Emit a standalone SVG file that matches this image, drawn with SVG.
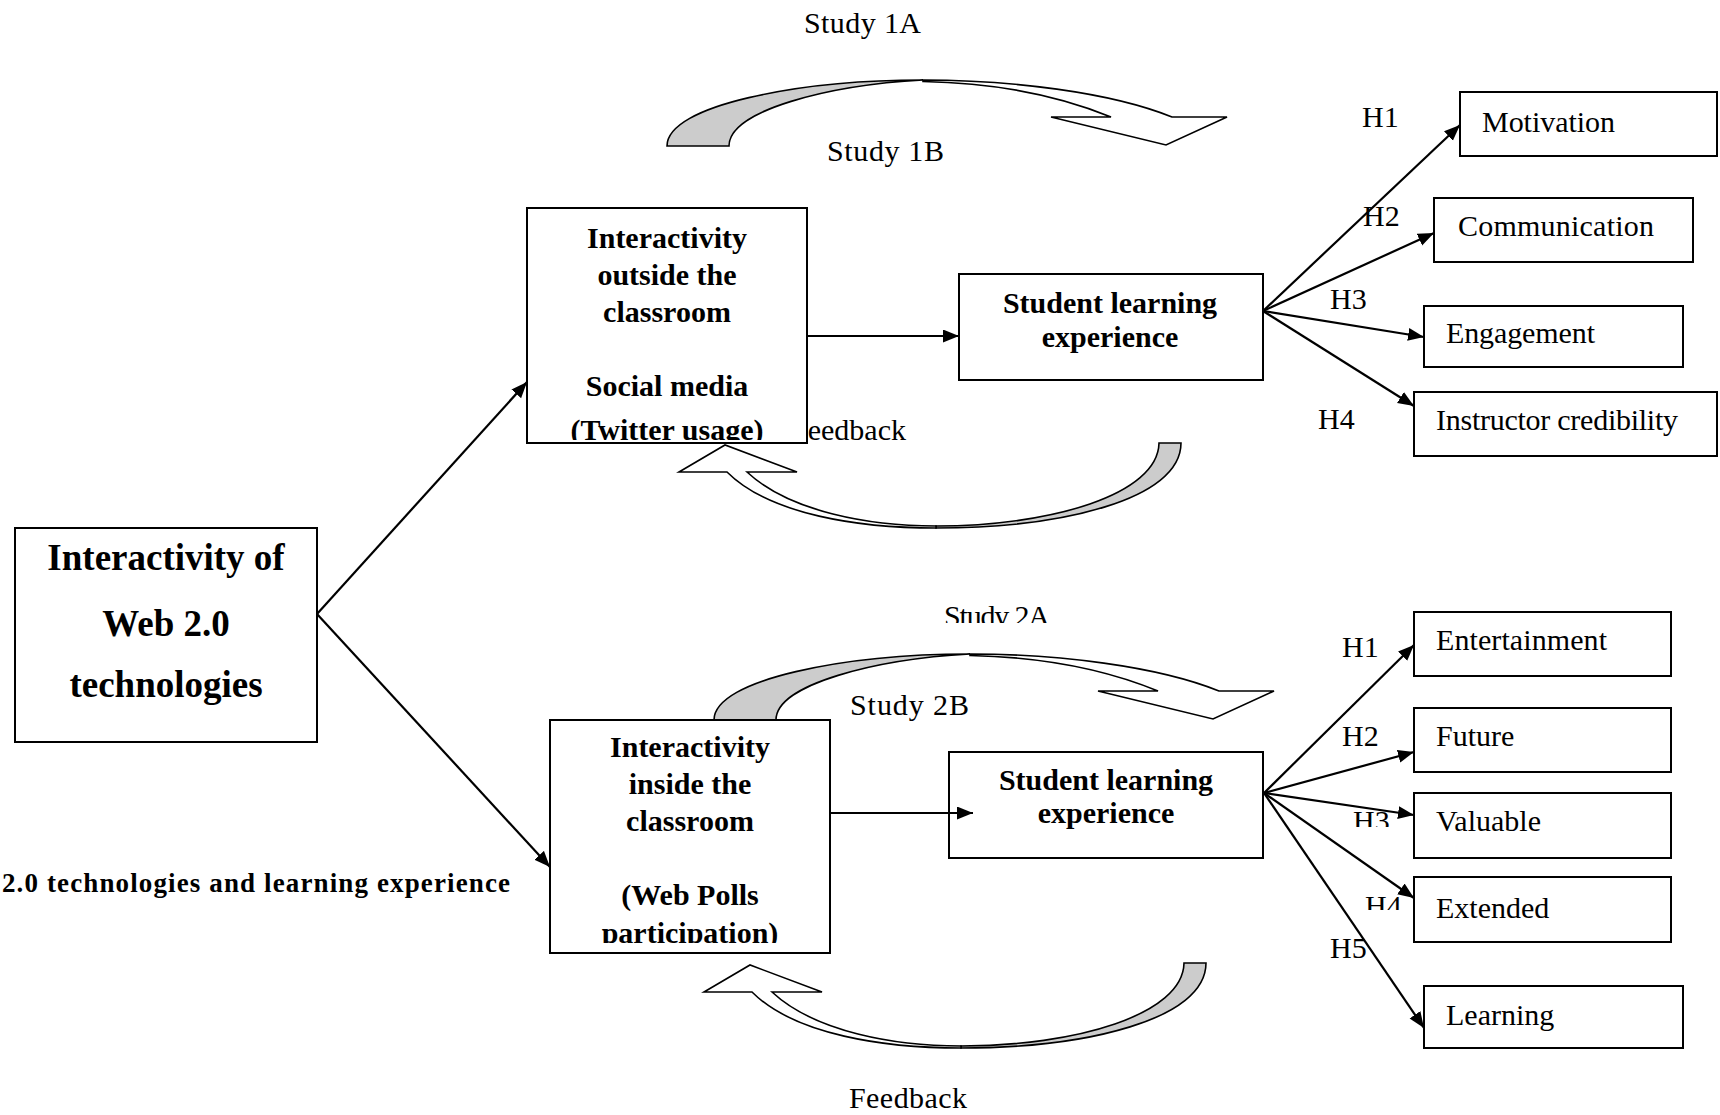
<svg xmlns="http://www.w3.org/2000/svg" width="1720" height="1115" viewBox="0 0 1720 1115">
  <style>
    .box { fill: #fff; stroke: #000; stroke-width: 2; }
    .t { font-family: "Liberation Serif", "Times New Roman", serif; font-size: 30px; fill: #000; }
    .b { font-weight: bold; }
    .mid { text-anchor: middle; }
    .edge { fill: none; stroke: #000; stroke-width: 2.2; marker-end: url(#arrow); }
    .band { fill: #fff; stroke: #000; stroke-width: 1.6; stroke-linejoin: miter; }
    .shade { fill: #cccccc; stroke: #000; stroke-width: 1.6; }
  </style>
  <defs>
    <marker id="arrow" markerUnits="userSpaceOnUse" markerWidth="18" markerHeight="14" refX="16" refY="6.5" orient="auto">
      <path d="M0,0 L16,6.5 L0,13 Z" fill="#000"/>
    </marker>
    <!-- ribbon arrow curving over the top and pointing down-right -->
    <g id="curveDown">
      <path class="shade" d="M667,146 C667,105 800,80 923,80 C830,85 729,110 729,146 Z"/>
      <path class="band" d="M923,80 C1010,80 1110,92 1172,117 L1227,117 L1166,145 L1051,117 L1111,117 C1060,96 1000,83 923,81.5 Z"/>
    </g>
    <!-- ribbon arrow curving underneath and pointing up-left -->
    <g id="curveUp">
      <path class="shade" d="M936,528 C1060,528 1181,500 1181,443 L1159,443 C1158,495 1050,526 936,526 Z"/>
      <path class="band" d="M727,472 L679,472 L725,445 L797,472 L747,472 C790,512 870,526 936,526 L936,528 C860,528 770,515 727,472 Z"/>
    </g>
    <clipPath id="clipBox1"><rect x="527" y="207" width="280" height="233"/></clipPath>
    <clipPath id="clipBox2"><rect x="550" y="720" width="280" height="223"/></clipPath>
    <clipPath id="clipH3"><rect x="1340" y="800" width="60" height="27"/></clipPath>
    <clipPath id="clipH4"><rect x="1355" y="880" width="60" height="30"/></clipPath>
    <clipPath id="clip2A"><rect x="930" y="595" width="140" height="28"/></clipPath>
  </defs>

  <!-- study and feedback labels -->
  <g id="labels">
    <text class="t" x="804" y="33" textLength="117" lengthAdjust="spacing">Study 1A</text>
    <text class="t" x="827" y="161" textLength="117" lengthAdjust="spacing">Study 1B</text>
    <text class="t" x="944" y="626" textLength="106" lengthAdjust="spacing" clip-path="url(#clip2A)">Study 2A</text>
    <text class="t" x="850" y="715" textLength="119" lengthAdjust="spacing">Study 2B</text>
    <text class="t" x="906" y="440" text-anchor="end">Feedback</text>
    <text class="t" x="849" y="1108" textLength="118" lengthAdjust="spacing">Feedback</text>
    <text class="t b" x="2" y="892" style="font-size:27px" textLength="508" lengthAdjust="spacing">2.0 technologies and learning experience</text>
  </g>

  <!-- study / feedback loops -->
  <g id="loops">
    <use href="#curveDown"/>
    <use href="#curveUp"/>
    <use href="#curveDown" transform="translate(47,574)"/>
    <use href="#curveUp" transform="translate(25,520)"/>
  </g>

  <!-- hypothesis labels -->
  <g id="hypotheses">
    <text class="t" x="1362" y="127">H1</text>
    <text class="t" x="1363" y="226">H2</text>
    <text class="t" x="1330" y="309">H3</text>
    <text class="t" x="1318" y="429">H4</text>
    <text class="t" x="1342" y="657">H1</text>
    <text class="t" x="1342" y="746">H2</text>
    <text class="t" x="1353" y="831" clip-path="url(#clipH3)">H3</text>
    <text class="t" x="1365" y="916" clip-path="url(#clipH4)">H4</text>
    <text class="t" x="1330" y="958">H5</text>
  </g>

  <g id="web20">
    <rect class="box" x="15" y="528" width="302" height="214"/>
    <text class="t b mid" style="font-size:37px" x="166" y="570">Interactivity of</text>
    <text class="t b mid" style="font-size:37px" x="166" y="636">Web 2.0</text>
    <text class="t b mid" style="font-size:37px" x="166" y="697">technologies</text>
  </g>

  <g id="outside">
    <rect class="box" x="527" y="208" width="280" height="235"/>
    <g clip-path="url(#clipBox1)">
      <text class="t b mid" x="667" y="248">Interactivity</text>
      <text class="t b mid" x="667" y="285">outside the</text>
      <text class="t b mid" x="667" y="322">classroom</text>
      <text class="t b mid" x="667" y="396">Social media</text>
      <text class="t b mid" x="667" y="440">(Twitter usage)</text>
    </g>
  </g>

  <g id="sle1">
    <rect class="box" x="959" y="274" width="304" height="106"/>
    <text class="t b mid" x="1110" y="313">Student learning</text>
    <text class="t b mid" x="1110" y="347">experience</text>
  </g>

  <g id="inside">
    <rect class="box" x="550" y="720" width="280" height="233"/>
    <g clip-path="url(#clipBox2)">
      <text class="t b mid" x="690" y="757">Interactivity</text>
      <text class="t b mid" x="690" y="794">inside the</text>
      <text class="t b mid" x="690" y="831">classroom</text>
      <text class="t b mid" x="690" y="905">(Web Polls</text>
      <text class="t b mid" x="690" y="943">participation)</text>
    </g>
  </g>

  <g id="sle2">
    <rect class="box" x="949" y="752" width="314" height="106"/>
    <text class="t b mid" x="1106" y="790">Student learning</text>
    <text class="t b mid" x="1106" y="823">experience</text>
  </g>

  <g id="motivation">
    <rect class="box" x="1460" y="92" width="257" height="64"/>
    <text class="t" x="1482" y="132" textLength="133" lengthAdjust="spacing">Motivation</text>
  </g>
  <g id="communication">
    <rect class="box" x="1434" y="198" width="259" height="64"/>
    <text class="t" x="1458" y="236" textLength="196" lengthAdjust="spacing">Communication</text>
  </g>
  <g id="engagement">
    <rect class="box" x="1424" y="306" width="259" height="61"/>
    <text class="t" x="1446" y="343" textLength="149" lengthAdjust="spacing">Engagement</text>
  </g>
  <g id="credibility">
    <rect class="box" x="1414" y="392" width="303" height="64"/>
    <text class="t" x="1436" y="430" textLength="242" lengthAdjust="spacing">Instructor credibility</text>
  </g>

  <g id="entertainment">
    <rect class="box" x="1414" y="612" width="257" height="64"/>
    <text class="t" x="1436" y="650" textLength="171" lengthAdjust="spacing">Entertainment</text>
  </g>
  <g id="future">
    <rect class="box" x="1414" y="708" width="257" height="64"/>
    <text class="t" x="1436" y="746">Future</text>
  </g>
  <g id="valuable">
    <rect class="box" x="1414" y="793" width="257" height="65"/>
    <text class="t" x="1436" y="831">Valuable</text>
  </g>
  <g id="extended">
    <rect class="box" x="1414" y="877" width="257" height="65"/>
    <text class="t" x="1436" y="918">Extended</text>
  </g>
  <g id="learning">
    <rect class="box" x="1424" y="986" width="259" height="62"/>
    <text class="t" x="1446" y="1025">Learning</text>
  </g>

  <!-- connectors, drawn over the boxes -->
  <g id="connectors">
    <line class="edge" x1="317" y1="614" x2="527" y2="382"/>
    <line class="edge" x1="317" y1="614" x2="550" y2="867"/>
    <line class="edge" x1="807" y1="336" x2="959" y2="336"/>
    <line class="edge" x1="830" y1="813" x2="973" y2="813"/>
    <line class="edge" x1="1263" y1="311" x2="1460" y2="125"/>
    <line class="edge" x1="1263" y1="311" x2="1434" y2="233"/>
    <line class="edge" x1="1263" y1="311" x2="1424" y2="337"/>
    <line class="edge" x1="1263" y1="311" x2="1414" y2="406"/>
    <line class="edge" x1="1264" y1="793" x2="1414" y2="645"/>
    <line class="edge" x1="1264" y1="793" x2="1414" y2="752"/>
    <line class="edge" x1="1264" y1="793" x2="1414" y2="815"/>
    <line class="edge" x1="1264" y1="793" x2="1414" y2="898"/>
    <line class="edge" x1="1264" y1="793" x2="1424" y2="1028"/>
  </g>
</svg>
